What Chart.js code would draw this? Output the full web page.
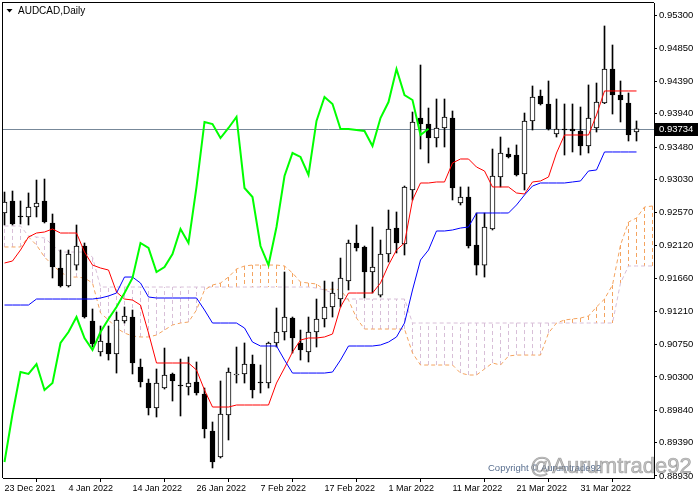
<!DOCTYPE html>
<html><head><meta charset="utf-8">
<script src="https://cdn.jsdelivr.net/npm/chart.js@4.4.1/dist/chart.umd.min.js"></script>
<style>html,body{margin:0;padding:0;background:#fff;overflow:hidden}canvas{display:block}</style>
</head><body>
<canvas id="c" width="700" height="500"></canvas>
<script>
// ---- data ----
const symbolTitle = 'AUDCAD,Daily';
const tickBars = [0, 8, 16, 24, 32, 40, 48, 56, 64, 72];
const tickLabels = ['23 Dec 2021','4 Jan 2022','14 Jan 2022','26 Jan 2022','7 Feb 2022','17 Feb 2022','1 Mar 2022','11 Mar 2022','21 Mar 2022','31 Mar 2022'];
const priceTicks = [0.95300,0.94850,0.94390,0.93940,0.93480,0.93030,0.92570,0.92120,0.91660,0.91210,0.90750,0.90300,0.89840,0.89390,0.88930];
const bid = 0.93734;

const opens = [0.92568,0.92734,0.92526,0.92513,0.92651,0.92734,0.92430,0.91807,0.91558,0.91848,
0.92111,0.91074,0.90645,0.90770,0.90617,0.91074,0.91129,0.90437,0.90216,0.89871,
0.90147,0.90341,0.90188,0.90161,0.90230,0.90064,0.89552,0.89193,0.89774,0.90327,
0.90341,0.90479,0.90230,0.90216,0.90770,0.90922,0.91115,0.90770,0.90645,0.90922,
0.91102,0.91268,0.91378,0.91627,0.92153,0.92098,0.91752,0.91433,0.92001,0.92360,
0.92139,0.92886,0.93882,0.93799,0.93605,0.93744,0.93882,0.92706,0.92789,0.92125,
0.91848,0.92347,0.93066,0.93384,0.93370,0.93108,0.93841,0.94186,0.94076,0.93661,
0.93730,0.93730,0.93702,0.93495,0.93744,0.94090,0.94560,0.94200,0.94090,0.93688];
const highs = [0.92858,0.92872,0.92734,0.92845,0.93024,0.93038,0.92554,0.92056,0.92056,0.92402,
0.92153,0.91240,0.91005,0.91005,0.91198,0.91268,0.91226,0.90548,0.90271,0.90410,
0.90700,0.90354,0.90548,0.90576,0.90507,0.90147,0.89677,0.90244,0.90424,0.90714,
0.90770,0.90603,0.90465,0.90783,0.91254,0.91752,0.91129,0.90949,0.91129,0.91378,
0.91627,0.91613,0.91945,0.92194,0.92402,0.92111,0.92374,0.92194,0.92609,0.92582,
0.92941,0.93965,0.94615,0.94020,0.94145,0.94145,0.93979,0.92928,0.92928,0.92568,
0.92568,0.93453,0.93619,0.93467,0.93509,0.93951,0.94325,0.94269,0.94394,0.94145,
0.94076,0.94076,0.94034,0.94339,0.94366,0.95155,0.94892,0.94394,0.94228,0.93841];
const lows = [0.92402,0.92402,0.92416,0.92402,0.92513,0.92430,0.91669,0.91544,0.91544,0.91779,
0.91115,0.90714,0.90590,0.90534,0.90354,0.91046,0.90341,0.90161,0.89774,0.89746,
0.90133,0.89967,0.89760,0.90050,0.90050,0.89456,0.89041,0.89179,0.89428,0.90216,
0.90216,0.90009,0.90078,0.90147,0.90714,0.90811,0.90631,0.90534,0.90507,0.90714,
0.90991,0.91129,0.91268,0.91503,0.92042,0.91392,0.91461,0.91406,0.91890,0.92015,
0.91987,0.92748,0.93453,0.93260,0.93481,0.93481,0.92748,0.92679,0.92084,0.91710,
0.91682,0.92333,0.92928,0.93329,0.93080,0.92886,0.93716,0.94062,0.93716,0.93619,
0.93370,0.93412,0.93370,0.93398,0.93688,0.94080,0.93937,0.93827,0.93564,0.93564];
const closes = [0.92720,0.92416,0.92513,0.92651,0.92706,0.92443,0.91821,0.91558,0.92001,0.92111,
0.91129,0.90756,0.90797,0.90617,0.91088,0.91143,0.90493,0.90230,0.89871,0.90216,
0.90327,0.90244,0.90175,0.90216,0.90078,0.89580,0.89124,0.89788,0.90368,0.90341,
0.90479,0.90119,0.90216,0.90770,0.90922,0.91129,0.90839,0.90673,0.90922,0.91102,
0.91268,0.91461,0.91669,0.92153,0.92084,0.91752,0.91821,0.92001,0.92347,0.92153,
0.92928,0.93827,0.93799,0.93605,0.93744,0.93896,0.92914,0.92789,0.92111,0.91848,
0.92374,0.93080,0.93398,0.93343,0.93094,0.93841,0.94173,0.94076,0.93730,0.93730,
0.93716,0.93702,0.93495,0.93882,0.94103,0.94560,0.94200,0.94131,0.93647,0.93734];

const tenkan = [0.91876,0.91904,0.92056,0.92236,0.92291,0.92305,0.92347,0.92291,0.92291,0.92291,
0.92028,0.91848,0.91807,0.91779,0.91475,0.91378,0.91364,0.91295,0.90908,0.90493,
0.90493,0.90493,0.90493,0.90493,0.90396,0.90119,0.89884,0.89884,0.89884,0.89912,
0.89912,0.89912,0.89912,0.89912,0.90216,0.90424,0.90645,0.90811,0.90839,0.90839,
0.90853,0.90894,0.91268,0.91461,0.91461,0.91461,0.91461,0.91599,0.91848,0.92056,
0.92153,0.92748,0.92983,0.92983,0.92997,0.92997,0.93260,0.93315,0.93315,0.93204,
0.93149,0.92928,0.92928,0.92928,0.92845,0.92831,0.92997,0.93011,0.93066,0.93398,
0.93647,0.93647,0.93647,0.93647,0.93924,0.94256,0.94256,0.94256,0.94256,0.94256];
const kijun = [0.91295,0.91295,0.91295,0.91295,0.91378,0.91378,0.91378,0.91378,0.91378,0.91378,
0.91378,0.91378,0.91392,0.91420,0.91461,0.91682,0.91682,0.91599,0.91406,0.91392,
0.91392,0.91392,0.91392,0.91392,0.91392,0.91226,0.91046,0.91046,0.91046,0.91046,
0.90977,0.90783,0.90728,0.90728,0.90728,0.90534,0.90354,0.90354,0.90354,0.90354,
0.90354,0.90368,0.90534,0.90728,0.90728,0.90728,0.90728,0.90742,0.90783,0.90853,
0.91046,0.91503,0.91918,0.92056,0.92319,0.92319,0.92333,0.92360,0.92374,0.92568,
0.92568,0.92568,0.92568,0.92568,0.92679,0.92817,0.92941,0.92983,0.92983,0.92983,
0.92983,0.92997,0.93011,0.93149,0.93163,0.93412,0.93412,0.93412,0.93412,0.93412];
const chikou = [0.89124,0.89788,0.90368,0.90341,0.90479,0.90119,0.90216,0.90770,0.90922,0.91129,
0.90839,0.90673,0.90922,0.91102,0.91268,0.91461,0.91669,0.92153,0.92084,0.91752,
0.91821,0.92001,0.92347,0.92153,0.92928,0.93827,0.93799,0.93605,0.93744,0.93896,
0.92914,0.92789,0.92111,0.91848,0.92374,0.93080,0.93398,0.93343,0.93094,0.93841,
0.94173,0.94076,0.93730,0.93730,0.93716,0.93702,0.93495,0.93882,0.94103,0.94560,
0.94200,0.94131,0.93647,0.93734];
const spanA = [0.92098,0.92098,0.92098,0.92236,0.92125,0.91959,0.91848,0.91752,0.91682,0.91682,
0.91669,0.91599,0.91185,0.91088,0.90977,0.90908,0.90866,0.90853,0.90853,0.90880,
0.90949,0.91019,0.91046,0.91060,0.91226,0.91503,0.91572,0.91599,0.91682,0.91793,
0.91835,0.91848,0.91848,0.91848,0.91848,0.91835,0.91738,0.91613,0.91599,0.91586,
0.91503,0.91516,0.91503,0.91364,0.91115,0.90963,0.90963,0.90963,0.90963,0.90963,
0.90963,0.90631,0.90465,0.90465,0.90465,0.90465,0.90465,0.90354,0.90327,0.90327,
0.90410,0.90493,0.90465,0.90590,0.90603,0.90603,0.90603,0.90603,0.90908,0.91046,
0.91088,0.91102,0.91115,0.91143,0.91268,0.91378,0.91572,0.92125,0.92443,0.92499,
0.92651,0.92665];
const spanB = [0.92388,0.92388,0.92388,0.92250,0.92236,0.92222,0.92125,0.92028,0.92028,0.92028,
0.92028,0.91959,0.91544,0.91544,0.91544,0.91544,0.91544,0.91544,0.91544,0.91544,
0.91544,0.91544,0.91544,0.91544,0.91544,0.91544,0.91544,0.91544,0.91544,0.91544,
0.91544,0.91544,0.91544,0.91544,0.91544,0.91544,0.91544,0.91544,0.91544,0.91530,
0.91503,0.91461,0.91378,0.91378,0.91378,0.91378,0.91378,0.91378,0.91378,0.91378,
0.91378,0.91046,0.91046,0.91046,0.91046,0.91046,0.91046,0.91046,0.91046,0.91046,
0.91046,0.91046,0.91046,0.91046,0.91046,0.91046,0.91046,0.91046,0.91046,0.91046,
0.91046,0.91046,0.91046,0.91046,0.91046,0.91046,0.91046,0.91599,0.91835,0.91835,
0.91835,0.91835];

// ---- chart ----
const FONT = 'Liberation Sans';
Chart.defaults.font.family = FONT;
const pts = arr => arr.map((v, i) => ({x: i, y: v}));
const SAND = '#F4A460', THISTLE = '#D8BFD8';

const mtPlugin = {
  id: 'mt',
  beforeDatasetsDraw(chart) {
    const {ctx, chartArea: a, scales: {x, y}} = chart;
    ctx.save();
    ctx.beginPath(); ctx.rect(a.left, a.top, a.width, a.height); ctx.clip();
    // bid line
    const yb = Math.round(y.getPixelForValue(bid)) + 0.5;
    ctx.strokeStyle = '#778899'; ctx.lineWidth = 1;
    ctx.beginPath(); ctx.moveTo(a.left, yb); ctx.lineTo(a.right, yb); ctx.stroke();
    // cloud hatch
    ctx.setLineDash([4, 3]);
    for (let i = 0; i < spanA.length; i++) {
      const px = x.getPixelForValue(i);
      ctx.strokeStyle = spanA[i] >= spanB[i] ? SAND : THISTLE;
      ctx.beginPath();
      ctx.moveTo(px, y.getPixelForValue(spanA[i]));
      ctx.lineTo(px, y.getPixelForValue(spanB[i]));
      ctx.stroke();
    }
    ctx.restore();
  },
  afterDraw(chart) {
    const {ctx, chartArea: a, scales: {y}} = chart;
    ctx.save();
    // frame (left/top)
    ctx.fillStyle = '#000';
    ctx.fillRect(a.left - 1, a.top - 1, 1, a.bottom - a.top + 1);
    ctx.fillRect(a.left - 1, a.top - 1, a.right - a.left + 1, 1);
    // title
    ctx.beginPath(); ctx.moveTo(6.5, 9); ctx.lineTo(12.5, 9); ctx.lineTo(9.5, 12.5); ctx.closePath(); ctx.fill();
    ctx.font = '10px ' + FONT; ctx.textBaseline = 'middle'; ctx.textAlign = 'left';
    ctx.fillText(symbolTitle, 18, 11.5);
    // bid tag
    const yb = Math.round(y.getPixelForValue(bid));
    ctx.fillStyle = '#000'; ctx.fillRect(a.right + 1, yb - 6, 43, 13);
    ctx.fillStyle = '#fff'; ctx.font = '9.5px ' + FONT;
    ctx.fillText(bid.toFixed(5), a.right + 5, yb + 0.5);
    // watermark
    ctx.fillStyle = '#5a7090'; ctx.font = '9.5px ' + FONT;
    ctx.fillText('Copyright \u00a9 Aurumtrade92', 488, 468);
    ctx.font = '22px ' + FONT;
    ctx.fillStyle = 'rgba(150,150,150,0.55)';
    ctx.fillText('@Aurumtrade92', 530, 467);
    ctx.strokeStyle = 'rgba(90,90,90,0.45)'; ctx.lineWidth = 0.7;
    ctx.strokeText('@Aurumtrade92', 530, 467);
    ctx.restore();
  }
};

const bodyColors = closes.map((c, i) => c >= opens[i] ? '#ffffff' : '#000000');

new Chart(document.getElementById('c'), {
  type: 'line',
  data: {
    datasets: [
      {type: 'line', data: pts(spanA), borderColor: SAND, borderWidth: 1, borderDash: [4, 3], pointRadius: 0, tension: 0, order: 6},
      {type: 'line', data: pts(spanB), borderColor: THISTLE, borderWidth: 1, borderDash: [4, 3], pointRadius: 0, tension: 0, order: 6},
      {type: 'bar', data: lows.map((l, i) => ({x: i, y: [l, highs[i]]})), backgroundColor: '#000', borderWidth: 0, barThickness: 1, grouped: false, order: 4},
      {type: 'bar', data: opens.map((o, i) => ({x: i, y: [o, closes[i]]})), backgroundColor: bodyColors, borderColor: '#000', borderWidth: 1, borderSkipped: false, barThickness: 5, grouped: false, order: 3},
      {type: 'line', data: pts(kijun), borderColor: '#0000FF', borderWidth: 1, pointRadius: 0, tension: 0, order: 1},
      {type: 'line', data: pts(tenkan), borderColor: '#FF0000', borderWidth: 1, pointRadius: 0, tension: 0, order: 1},
      {type: 'line', data: pts(chikou), borderColor: '#00FF00', borderWidth: 2, pointRadius: 0, tension: 0, order: 0}
    ]
  },
  options: {
    responsive: false, animation: false, devicePixelRatio: 1,
    layout: {padding: {left: 3, top: 3, right: 0, bottom: 0}},
    plugins: {legend: {display: false}, tooltip: {enabled: false}},
    scales: {
      x: {
        type: 'linear', min: -0.1875, max: 81.1875, offset: false,
        afterBuildTicks: s => { s.ticks = tickBars.map(v => ({value: v})); },
        afterFit: s => { s.height = 22; s.paddingLeft = 0; s.paddingRight = 0; },
        ticks: {autoSkip: false, maxRotation: 0, minRotation: 0, align: 'start', padding: 1, color: '#000',
          font: {size: 9, family: FONT}, callback: (v, i) => tickLabels[i]},
        grid: {drawOnChartArea: false, drawTicks: true, tickLength: 4, color: '#000'},
        border: {display: true, color: '#000', width: 1}
      },
      y: {
        type: 'linear', position: 'right', min: 0.889022, max: 0.954729,
        afterBuildTicks: s => { s.ticks = priceTicks.map(v => ({value: v})); },
        afterFit: s => { s.width = 46; s.paddingTop = 0; s.paddingBottom = 0; },
        ticks: {autoSkip: false, padding: 2, color: '#000', font: {size: 9.5, family: FONT},
          callback: v => Number(v).toFixed(5)},
        grid: {drawOnChartArea: false, drawTicks: true, tickLength: 3, color: '#000'},
        border: {display: true, color: '#000', width: 1}
      }
    }
  },
  plugins: [mtPlugin]
});
</script>
</body></html>
